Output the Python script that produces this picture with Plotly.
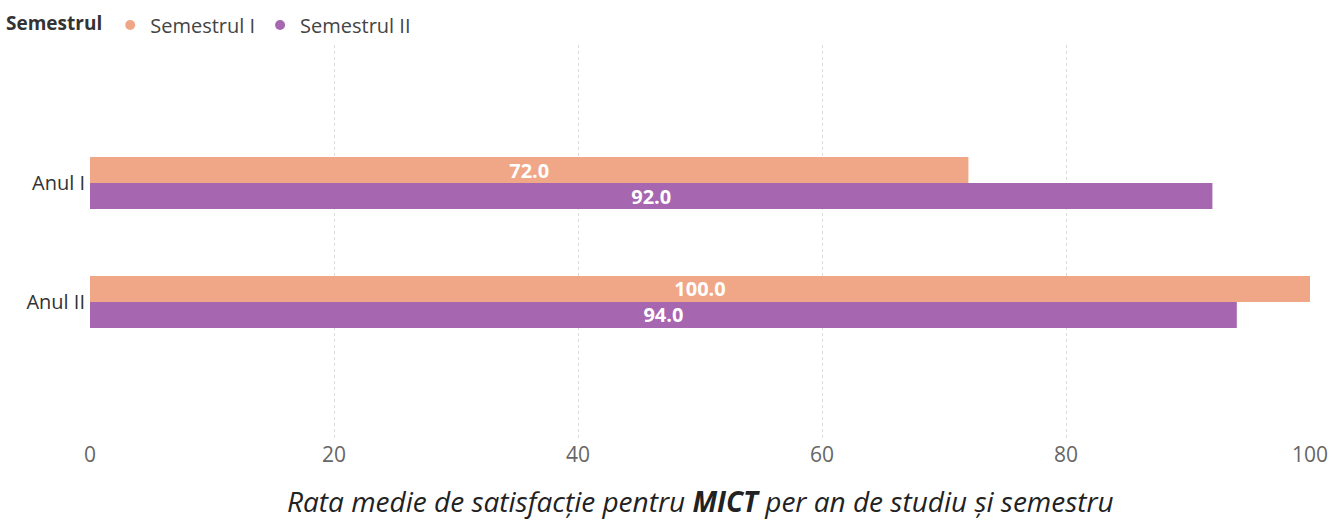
import plotly.graph_objects as go

categories = ["Anul I", "Anul II"]
series_names = ["Semestrul I", "Semestrul II"]
sem1_values = [72.0, 100.0]
sem2_values = [92.0, 94.0]
colors = ["#F0A787", "#A666B0"]
x_ticks = [0, 20, 40, 60, 80, 100]

fig = go.Figure()
for name, vals, col in zip(series_names, [sem1_values, sem2_values], colors):
    fig.add_trace(go.Bar(
        y=categories, x=vals, orientation="h", name=name,
        marker=dict(color=col, line=dict(width=0)),
        text=[f"{v:.1f}" for v in vals], textposition="inside",
        insidetextanchor="middle", constraintext="none",
        textfont=dict(color="white", size=20, family="Open Sans"),
        texttemplate="<b>%{text}</b>",
        showlegend=False, hoverinfo="x+y",
    ))
    # legend entry with circle marker
    fig.add_trace(go.Scatter(
        x=[None], y=[None], mode="markers", name=name,
        marker=dict(color=col, size=10, symbol="circle"),
        showlegend=True,
    ))

fig.update_layout(
    width=1332, height=520,
    margin=dict(l=90, r=22, t=45, b=80, autoexpand=False),
    paper_bgcolor="white", plot_bgcolor="white",
    barmode="group", bargap=0.563, bargroupgap=0,
    font=dict(family="Open Sans", color="#555"),
    legend=dict(
        orientation="h", xref="container", yref="container",
        x=4 / 1332, xanchor="left", y=1 - 25 / 520, yanchor="middle",
        title=dict(text="<b>Semestrul</b>", font=dict(size=19, color="#333")),
        font=dict(size=20, color="#444"),
        itemwidth=30, tracegroupgap=0,
    ),
    xaxis=dict(
        range=[0, 100], tickvals=x_ticks, showgrid=True,
        gridcolor="#dcdcdc", griddash="dot", gridwidth=1,
        zeroline=False, showline=False, automargin=False,
        tickfont=dict(size=21, color="#666"), ticks="",
    ),
    yaxis=dict(
        type="category", categoryorder="array", categoryarray=categories,
        range=[2.16, -1.16], showgrid=False, zeroline=False, automargin=False,
        tickfont=dict(size=20, color="#333"), ticks="", ticklabelstandoff=4,
    ),
    annotations=[dict(
        text="<i>Rata medie de satisfacție pentru <b>MICT</b> per an de studiu și semestru</i>",
        xref="paper", yref="paper", x=0.5, y=-61 / 395,
        xanchor="center", yanchor="middle",
        showarrow=False, font=dict(size=28, color="#222", family="Open Sans"),
    )],
)

fig.write_html("out.html", config={"displayModeBar": False},
               post_script="document.body.style.margin='0px';")
